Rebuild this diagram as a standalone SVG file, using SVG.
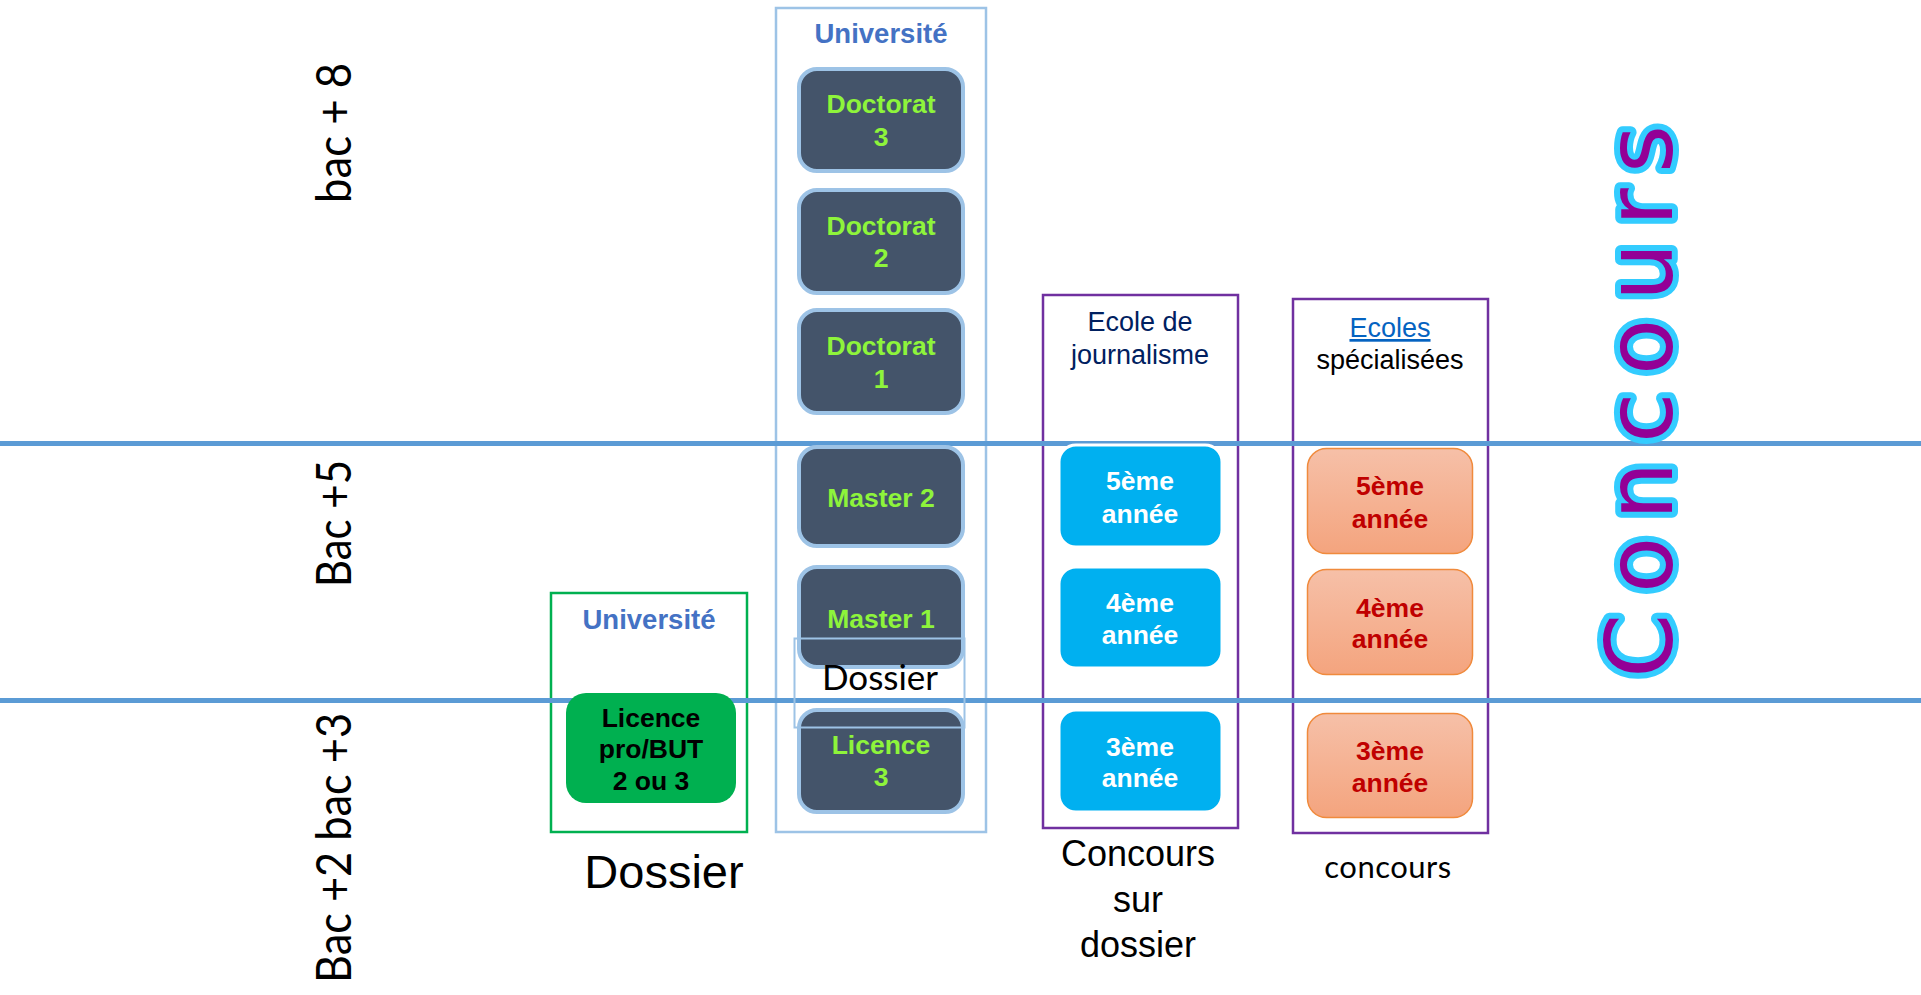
<svg xmlns="http://www.w3.org/2000/svg" width="1921" height="995" viewBox="0 0 1921 995">
<style>
.t{font-family:"Liberation Sans",Arial,sans-serif;text-anchor:middle}
.b{font-weight:bold;font-size:26.5px}
.r{font-size:27px}
.g{fill:#8ef43b}
.uni{font-weight:bold;font-size:27.5px;fill:#4472c4}
.dark{fill:#44546a;stroke:#9dc3e6;stroke-width:4}
.blue{fill:#00b0f0;stroke:#ffffff;stroke-width:3}
.orange{fill:url(#og);stroke:#f08a3c;stroke-width:1.5}
.wt{fill:#ffffff}
.rt{fill:#c00000}
.side{font-family:Lato,"Liberation Sans",sans-serif;font-size:49px;fill:#000}
.frame{fill:none;stroke-width:2.5}
.band{stroke:#5b9bd5;stroke-width:5}
</style>
<defs>
<linearGradient id="og" x1="0" y1="0" x2="0" y2="1">
<stop offset="0" stop-color="#f6c0a8"/>
<stop offset="1" stop-color="#f4a47e"/>
</linearGradient>
</defs>
<rect width="1921" height="995" fill="#ffffff"/>

<!-- containers -->
<g id="univ-main">
<rect class="frame" x="776" y="8" width="210" height="824" stroke="#9dc3e6"/>
<text class="t uni" x="881" y="43">Université</text>
</g>
<g id="univ-left">
<rect class="frame" x="551" y="593" width="196" height="239" stroke="#00b050"/>
<text class="t uni" x="649" y="629">Université</text>
</g>
<g id="ecole-journalisme">
<rect class="frame" x="1043" y="295" width="195" height="533" stroke="#7030a0"/>
<text class="t r" x="1140" y="331" fill="#002060">Ecole de</text>
<text class="t r" x="1140" y="364" fill="#002060">journalisme</text>
</g>
<g id="ecoles-specialisees">
<rect class="frame" x="1293" y="299" width="195" height="534" stroke="#7030a0"/>
<text class="t r" x="1390" y="337" fill="#0563c1" text-decoration="underline">Ecoles</text>
<text class="t r" x="1390" y="369" fill="#000">spécialisées</text>
</g>

<!-- level lines -->
<g id="connectors">
<line class="band" x1="0" y1="443.5" x2="1921" y2="443.5"/>
<line class="band" x1="0" y1="700.5" x2="1921" y2="700.5"/>
</g>

<!-- side labels -->
<g id="labels-left">
<text class="side" transform="translate(351,0) rotate(-90)" x="-203" y="0" textLength="140" lengthAdjust="spacingAndGlyphs">bac + 8</text>
<text class="side" transform="translate(351,0) rotate(-90)" x="-587" y="0" textLength="127" lengthAdjust="spacingAndGlyphs">Bac +5</text>
<text class="side" transform="translate(351,0) rotate(-90)" x="-983" y="0" textLength="270" lengthAdjust="spacingAndGlyphs">Bac +2 bac +3</text>
</g>

<!-- university nodes -->
<g id="doctorat3">
<rect class="dark" x="799" y="69" width="164" height="102" rx="18"/>
<text class="t b g" x="881" y="113">Doctorat</text>
<text class="t b g" x="881" y="146">3</text>
</g>
<g id="doctorat2">
<rect class="dark" x="799" y="190" width="164" height="103" rx="18"/>
<text class="t b g" x="881" y="235">Doctorat</text>
<text class="t b g" x="881" y="267">2</text>
</g>
<g id="doctorat1">
<rect class="dark" x="799" y="310" width="164" height="103" rx="18"/>
<text class="t b g" x="881" y="355">Doctorat</text>
<text class="t b g" x="881" y="388">1</text>
</g>
<g id="master2">
<rect class="dark" x="799" y="447" width="164" height="99" rx="18"/>
<text class="t b g" x="881" y="507">Master 2</text>
</g>
<g id="master1">
<rect class="dark" x="799" y="567" width="164" height="100" rx="18"/>
<text class="t b g" x="881" y="628">Master 1</text>
</g>
<g id="licence3">
<rect class="dark" x="799" y="710" width="164" height="102" rx="18"/>
<text class="t b g" x="881" y="754">Licence</text>
<text class="t b g" x="881" y="786">3</text>
</g>
<g id="dossier-box">
<rect x="794.5" y="638.5" width="170" height="89" fill="none" stroke="#9dc3e6" stroke-width="2"/>
<text x="880" y="690" font-family="Lato,'Liberation Sans',sans-serif" font-size="35" text-anchor="middle" fill="#000">Dossier</text>
</g>

<g id="licence-pro">
<rect x="566" y="693" width="170" height="110" rx="20" fill="#00b050"/>
<text class="t b" x="651" y="727" fill="#000">Licence</text>
<text class="t b" x="651" y="758" fill="#000">pro/BUT</text>
<text class="t b" x="651" y="790" fill="#000">2 ou 3</text>
</g>

<!-- journalism school -->
<g id="j5">
<rect class="blue" x="1059" y="445" width="163" height="102" rx="17"/>
<text class="t b wt" x="1140" y="490">5ème</text>
<text class="t b wt" x="1140" y="523">année</text>
</g>
<g id="j4">
<rect class="blue" x="1059" y="567" width="163" height="101" rx="17"/>
<text class="t b wt" x="1140" y="612">4ème</text>
<text class="t b wt" x="1140" y="644">année</text>
</g>
<g id="j3">
<rect class="blue" x="1059" y="710" width="163" height="102" rx="17"/>
<text class="t b wt" x="1140" y="756">3ème</text>
<text class="t b wt" x="1140" y="787">année</text>
</g>

<!-- specialised schools -->
<g id="s5">
<rect class="orange" x="1307.5" y="448.5" width="165" height="105" rx="19"/>
<text class="t b rt" x="1390" y="495">5ème</text>
<text class="t b rt" x="1390" y="528">année</text>
</g>
<g id="s4">
<rect class="orange" x="1307.5" y="569.5" width="165" height="105" rx="19"/>
<text class="t b rt" x="1390" y="617">4ème</text>
<text class="t b rt" x="1390" y="648">année</text>
</g>
<g id="s3">
<rect class="orange" x="1307.5" y="713.5" width="165" height="104" rx="19"/>
<text class="t b rt" x="1390" y="760">3ème</text>
<text class="t b rt" x="1390" y="792">année</text>
</g>

<!-- bottom captions -->
<g id="captions">
<text class="t" x="664" y="888" font-size="47" fill="#000">Dossier</text>
<text class="t" x="1138" y="866" font-size="36" fill="#000">Concours</text>
<text class="t" x="1138" y="912" font-size="36" fill="#000">sur</text>
<text class="t" x="1138" y="957" font-size="36" fill="#000">dossier</text>
<text x="1388" y="878" font-family="Lato,'Liberation Sans',sans-serif" font-size="31" text-anchor="middle" fill="#000" letter-spacing="0.5">concours</text>
</g>

<!-- big vertical word -->
<g id="concours-big">
<text transform="translate(1672,0) rotate(-90)" x="-678 -593 -520 -443 -375 -301 -226 -173" y="0" font-family="'DejaVu Sans',sans-serif" font-size="92" fill="#930096" stroke="#33ccff" stroke-width="12" stroke-linejoin="round" paint-order="stroke">Concours</text>
</g>
</svg>
